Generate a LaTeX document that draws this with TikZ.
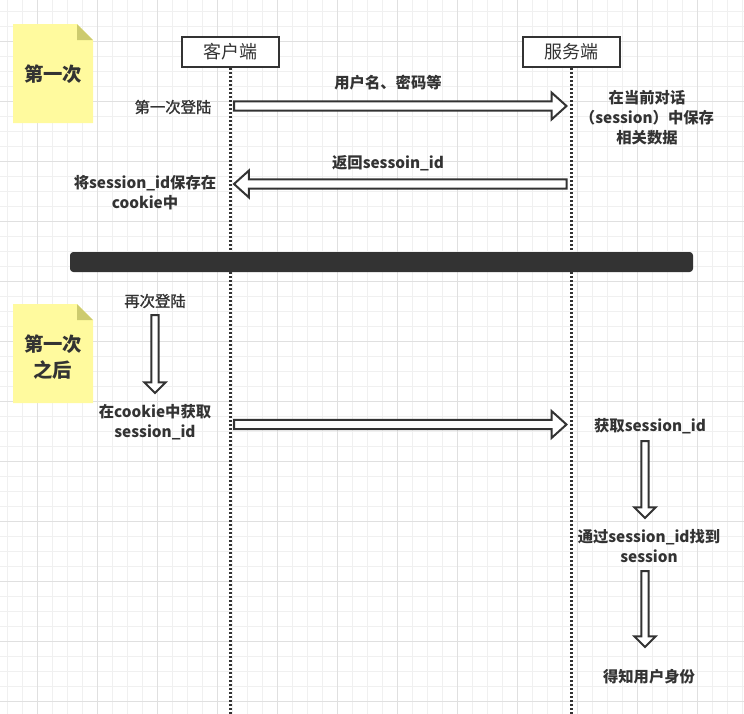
\documentclass[tikz,border=0pt]{standalone}
\usepackage{fontspec}
\setmainfont{Noto Sans CJK SC}
\newfontfamily\medfont{Noto Sans CJK SC}[FakeBold=1.3]
\usetikzlibrary{calc}

\definecolor{ink}{HTML}{333333}
\definecolor{gridminor}{HTML}{F0F0F0}
\definecolor{gridmajor}{HTML}{E0E0E0}
\definecolor{notefill}{HTML}{FFFA9E}
\definecolor{notefold}{HTML}{CDCB6E}

% block arrow from #1 to #2: shaft half width, head half width, head length
\newcommand{\flexarrow}[5]{%
  \coordinate (h) at ($(#2)!#5!(#1)$);
  \draw[flex] ($(#1)!#3!90:(#2)$) -- ($(h)!#3!90:(#2)$) -- ($(h)!#4!90:(#2)$)
    -- (#2) -- ($(h)!#4!-90:(#2)$) -- ($(h)!#3!-90:(#2)$) -- ($(#1)!#3!-90:(#2)$)
    -- cycle;
}

\begin{document}
\begin{tikzpicture}[
    x=0.75pt, y=-0.75pt,
    box/.style={draw=ink, line width=1.5pt, fill=white, text=ink,
                minimum width=72.75pt, minimum height=22.5pt, inner sep=0pt,
                font=\fontsize{13.5}{16}\selectfont},
    lbl/.style={text=ink, align=center, inner sep=0pt,
                font=\fontsize{11.5}{15}\selectfont\bfseries},
    plain/.style={lbl, font=\fontsize{11.5}{15}\medfont},
    notetext/.style={text=ink, align=center, inner sep=0pt,
                font=\fontsize{14.5}{20}\selectfont\bfseries},
    lifeline/.style={draw=ink, line width=1.7pt, dash pattern=on 1.5pt off 1.5pt},
    flex/.style={draw=ink, fill=white, line width=1.5pt, miter limit=10},
  ]
  \useasboundingbox (0,0) rectangle (744,714);

  % grid
  \foreach \x in {7.5,22.5,...,743} \draw[gridminor, line width=0.75pt] (\x,0) -- (\x,714);
  \foreach \y in {11.5,26.5,...,714} \draw[gridminor, line width=0.75pt] (0,\y) -- (744,\y);
  \foreach \x in {37.5,97.5,...,743} \draw[gridmajor, line width=0.75pt] (\x,0) -- (\x,714);
  \foreach \y in {41.5,101.5,...,714} \draw[gridmajor, line width=0.75pt] (0,\y) -- (744,\y);

  % notes
  \fill[notefill] (13,24) -- (77,24) -- (93,40) -- (93,123) -- (13,123) -- cycle;
  \fill[notefold] (77,24) -- (77,40) -- (93,40) -- cycle;
  \node[notetext] (first) at (53,74) {第一次};
  \fill[notefill] (13,304) -- (77,304) -- (93,320) -- (93,403) -- (13,403) -- cycle;
  \fill[notefold] (77,304) -- (77,320) -- (93,320) -- cycle;
  \node[notetext] (after) at (53,357) {第一次\\之后};

  % participants
  \node[box] (client) at (230.5,52) {客户端};
  \node[box] (server) at (571.5,52) {服务端};
  \coordinate (clientend) at (230.5,714);
  \coordinate (serverend) at (571.5,714);
  \draw[lifeline] (client) -- (clientend);
  \draw[lifeline] (server) -- (serverend);

  % first login
  \node[lbl] (creds) at (388,83) {用户名、密码等};
  \node[plain] (login) at (173,107) {第一次登陆};
  \node[lbl] (store) at (647,118) {在当前对话\\（session）中保存\\相关数据};
  \node[lbl] (reply) at (388,163) {返回sessoin\_id};
  \node[lbl] (save) at (145,193) {将session\_id保存在\\cookie中};

  \coordinate (sendfrom) at (234,106);
  \coordinate (sendto) at (566.5,106);
  \coordinate (backfrom) at (566.5,184);
  \coordinate (backto) at (234,184);
  \flexarrow{sendfrom}{sendto}{3.4pt}{10.1pt}{11.2pt}
  \flexarrow{backfrom}{backto}{3.4pt}{10.1pt}{11.2pt}

  % divider
  \fill[ink, rounded corners=2.5pt] (70,252) rectangle (693,272);

  % later logins
  \node[plain] (relogin) at (155,301) {再次登陆};
  \node[lbl] (getcookie) at (155,422) {在cookie中获取\\session\_id};
  \node[lbl] (getid) at (650,426) {获取session\_id};
  \node[lbl] (find) at (649,546) {通过session\_id找到\\session};
  \node[lbl] (user) at (649,677) {得知用户身份};

  \coordinate (downa) at (155,315);
  \coordinate (downb) at (155,393);
  \coordinate (resendfrom) at (234,424.5);
  \coordinate (resendto) at (566.5,424.5);
  \coordinate (downc) at (645,441);
  \coordinate (downd) at (645,518);
  \coordinate (downe) at (645,571);
  \coordinate (downf) at (645,647);
  \flexarrow{downa}{downb}{2.8pt}{8pt}{8pt}
  \flexarrow{resendfrom}{resendto}{3.4pt}{10.1pt}{11.2pt}
  \flexarrow{downc}{downd}{2.8pt}{8pt}{8pt}
  \flexarrow{downe}{downf}{2.8pt}{8pt}{8pt}
\end{tikzpicture}
\end{document}
